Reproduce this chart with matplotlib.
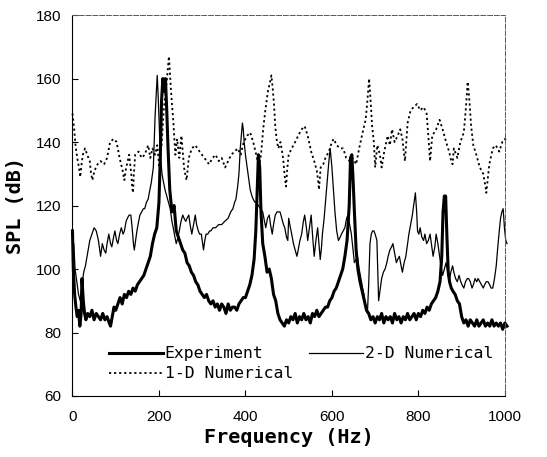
import matplotlib.pyplot as plt
from matplotlib.lines import Line2D

# experiment (thick line)
exp_f = [0, 2, 5, 8, 11, 14, 17, 20, 22, 25, 28, 31, 35, 40, 45, 50, 55, 60, 65, 70,
         75, 80, 85, 88, 92, 96, 100, 105, 110, 115, 120, 125, 130, 135, 140, 145, 150, 155, 160, 165,
         170, 175, 180, 185, 190, 195, 200, 203, 206, 209, 212, 215, 218, 221, 225, 230, 235, 240, 245, 250,
         255, 260, 265, 270, 275, 280, 285, 290, 295, 300, 305, 310, 315, 320, 325, 330, 335, 340, 345, 350,
         355, 360, 365, 370, 375, 380, 385, 390, 395, 400, 405, 410, 415, 420, 424, 427, 430, 433, 436, 440,
         445, 450, 455, 460, 465, 470, 475, 480, 485, 490, 495, 500, 505, 510, 515, 520, 525, 530, 535, 540,
         545, 550, 555, 560, 565, 570, 575, 580, 585, 590, 595, 600, 605, 610, 615, 620, 625, 630, 635, 640,
         643, 646, 649, 652, 656, 660, 665, 670, 675, 680, 685, 690, 695, 700, 705, 710, 715, 720, 725, 730,
         735, 740, 745, 750, 755, 760, 765, 770, 775, 780, 785, 790, 795, 800, 805, 810, 815, 820, 825, 830,
         835, 840, 845, 850, 854, 857, 860, 863, 866, 869, 872, 876, 880, 885, 890, 895, 900, 905, 910, 915,
         920, 925, 930, 935, 940, 945, 950, 955, 960, 965, 970, 975, 980, 985, 990, 995, 1000, 1005]
exp_db = [112, 100, 92, 88, 85, 87, 82, 86, 97, 90, 86, 84, 86, 85, 87, 84, 86, 85, 84, 86,
          84, 85, 83, 82, 85, 88, 87, 89, 91, 89, 92, 91, 93, 92, 94, 93, 95, 96, 97, 98,
          100, 102, 104, 108, 111, 113, 121, 135, 153, 160, 156, 160, 150, 138, 125, 118, 120, 112, 110, 108,
          106, 105, 102, 101, 99, 98, 96, 95, 93, 92, 91, 92, 90, 89, 90, 88, 89, 87, 89, 88,
          86, 89, 87, 88, 88, 87, 89, 90, 91, 91, 93, 95, 98, 103, 112, 124, 136, 132, 118, 108,
          104, 99, 100, 97, 92, 90, 86, 84, 83, 82, 84, 83, 85, 84, 86, 83, 85, 84, 86, 84,
          85, 83, 86, 85, 87, 85, 86, 87, 88, 88, 90, 91, 93, 94, 96, 98, 100, 104, 109, 120,
          135, 136, 128, 118, 106, 100, 96, 93, 90, 87, 86, 84, 85, 83, 85, 84, 86, 83, 85, 84,
          85, 83, 86, 84, 85, 83, 85, 84, 86, 84, 85, 86, 84, 86, 85, 87, 86, 88, 87, 89,
          90, 91, 93, 96, 104, 118, 123, 123, 110, 99, 96, 94, 93, 92, 90, 89, 85, 83, 84, 82,
          84, 83, 82, 84, 82, 83, 84, 82, 83, 82, 84, 82, 83, 82, 83, 81, 83, 82]

# 2-D numerical (thin line)
num2_f = [0, 3, 6, 10, 14, 18, 22, 26, 30, 35, 40, 45, 50, 55, 60, 65, 69, 73, 77, 80,
          84, 88, 91, 95, 98, 102, 105, 109, 113, 117, 120, 124, 127, 131, 135, 138, 141, 143, 146, 149,
          153, 156, 160, 164, 167, 171, 175, 179, 182, 185, 187, 189, 191, 194, 196, 198, 200, 202, 204, 207,
          211, 214, 218, 222, 226, 230, 233, 237, 240, 244, 247, 251, 255, 258, 262, 265, 269, 272, 276, 280,
          284, 287, 291, 294, 298, 301, 303, 306, 309, 313, 317, 320, 325, 331, 338, 345, 352, 360, 366, 371,
          375, 378, 382, 385, 388, 391, 393, 395, 397, 400, 404, 408, 411, 415, 418, 422, 425, 430, 435, 440,
          444, 447, 451, 455, 458, 462, 465, 469, 473, 477, 480, 484, 488, 491, 495, 498, 500, 504, 507, 511,
          515, 519, 522, 526, 530, 534, 537, 541, 544, 548, 552, 555, 559, 563, 567, 570, 573, 576, 578, 582,
          585, 589, 593, 596, 600, 603, 607, 611, 615, 619, 622, 626, 630, 634, 637, 641, 645, 648, 652, 656,
          659, 663, 667, 671, 674, 678, 682, 685, 688, 691, 694, 697, 700, 704, 706, 708, 711, 715, 719, 723,
          727, 730, 734, 738, 741, 745, 749, 752, 756, 760, 763, 767, 771, 775, 778, 782, 786, 789, 793, 796,
          798, 801, 804, 808, 812, 815, 819, 823, 827, 830, 834, 838, 841, 845, 849, 852, 856, 860, 864, 868,
          871, 875, 879, 882, 886, 890, 894, 898, 901, 905, 909, 913, 916, 920, 924, 927, 931, 935, 938, 942,
          946, 950, 953, 957, 961, 965, 968, 972, 976, 980, 983, 987, 990, 993, 996, 999, 1002, 1005]
num2_db = [103, 108, 100, 96, 92, 90, 95, 99, 101, 105, 109, 111, 113, 112, 109, 104, 108, 106, 105, 108,
           111, 108, 107, 110, 112, 109, 108, 111, 113, 111, 112, 115, 116, 117, 117, 113, 108, 106, 109, 112,
           115, 117, 118, 119, 119, 121, 122, 125, 127, 130, 132, 140, 148, 156, 161, 155, 148, 140, 135, 130,
           127, 125, 123, 121, 119, 115, 113, 110, 108, 110, 112, 115, 117, 116, 115, 116, 117, 114, 111, 114,
           117, 114, 112, 111, 111, 108, 106, 109, 111, 111, 112, 112, 113, 113, 114, 114, 115, 116, 118, 119,
           121, 122, 126, 130, 138, 143, 146, 144, 140, 136, 132, 128, 125, 123, 122, 121, 121, 120, 119, 118,
           115, 113, 116, 117, 114, 111, 114, 117, 118, 118, 118, 116, 114, 113, 110, 109, 116, 113, 111, 108,
           106, 104, 106, 109, 111, 115, 117, 113, 109, 113, 117, 111, 104, 109, 113, 108, 103, 107, 111, 116,
           121, 128, 134, 138, 132, 126, 118, 112, 109, 110, 111, 112, 113, 116, 117, 114, 111, 107, 102, 103,
           104, 100, 97, 94, 92, 88, 86, 95, 108, 111, 112, 112, 111, 109, 100, 90, 93, 97, 99, 100,
           102, 104, 106, 107, 108, 105, 102, 103, 104, 101, 99, 102, 104, 108, 111, 114, 117, 120, 124, 118,
           112, 111, 113, 110, 109, 111, 108, 109, 111, 108, 104, 107, 111, 108, 104, 101, 98, 100, 102, 99,
           96, 99, 101, 99, 97, 96, 98, 96, 95, 94, 96, 97, 97, 96, 94, 95, 97, 96, 97, 96,
           95, 94, 95, 96, 96, 95, 94, 94, 97, 101, 106, 112, 116, 118, 119, 113, 109, 108]

# 1-D numerical (dotted line)
num1_f = [0, 4, 7, 11, 15, 18, 21, 24, 29, 34, 40, 43, 46, 51, 58, 65, 73, 80, 87, 95,
          102, 109, 116, 120, 123, 126, 131, 136, 138, 140, 142, 145, 153, 160, 167, 175, 180, 185, 191, 196,
          201, 206, 211, 215, 218, 221, 223, 225, 227, 230, 233, 236, 238, 242, 247, 252, 258, 262, 264, 269,
          276, 284, 294, 305, 316, 324, 331, 338, 345, 353, 360, 367, 375, 382, 389, 396, 404, 411, 418, 425,
          431, 436, 441, 446, 452, 457, 460, 463, 466, 469, 472, 476, 481, 487, 491, 494, 497, 500, 507, 515,
          522, 530, 537, 544, 552, 559, 565, 568, 570, 574, 580, 585, 593, 600, 604, 611, 619, 626, 633, 641,
          648, 656, 663, 671, 678, 682, 686, 689, 693, 697, 700, 705, 711, 715, 721, 729, 734, 739, 745, 752,
          758, 763, 767, 769, 772, 775, 782, 789, 797, 804, 812, 819, 823, 827, 832, 841, 849, 856, 864, 871,
          876, 879, 882, 890, 897, 905, 910, 914, 918, 922, 927, 934, 942, 950, 955, 957, 960, 964, 972, 979,
          987, 994, 1000, 1005]
num1_db = [149, 144, 139, 135, 132, 129, 133, 136, 138, 136, 134, 130, 128, 131, 133, 134, 133, 135, 140, 141,
           140, 135, 131, 128, 131, 133, 136, 130, 126, 124, 130, 136, 137, 135, 136, 139, 135, 138, 136, 139,
           132, 139, 150, 155, 159, 164, 167, 163, 158, 152, 147, 140, 136, 141, 135, 142, 132, 129, 128, 135,
           138, 139, 137, 135, 133, 135, 136, 134, 135, 132, 134, 136, 137, 138, 136, 140, 142, 143, 140, 136,
           132, 136, 144, 150, 156, 159, 161, 157, 152, 145, 141, 138, 140, 135, 129, 126, 132, 136, 138, 140,
           142, 144, 145, 142, 137, 134, 131, 128, 125, 132, 133, 135, 137, 140, 141, 139, 138, 138, 135, 134,
           135, 133, 138, 143, 147, 153, 160, 154, 145, 140, 132, 139, 136, 132, 137, 142, 139, 144, 140, 142,
           144, 141, 136, 134, 140, 146, 150, 151, 152, 150, 151, 149, 142, 134, 142, 144, 147, 144, 140, 137,
           134, 133, 138, 135, 140, 143, 151, 159, 153, 145, 139, 136, 132, 130, 126, 124, 128, 133, 138, 139,
           137, 140, 141, 140]

xticks = [0, 200, 400, 600, 800, 1000]
yticks = [60, 80, 100, 120, 140, 160, 180]

plt.rcParams['font.family'] = ['Liberation Sans', 'DejaVu Sans']

fig = plt.figure(figsize=(5.47, 4.57), dpi=100)
ax = fig.add_axes([0.1325, 0.1335, 0.7905, 0.8335])

dots = (0, (1.2, 1.6))
ax.plot(exp_f, exp_db, color='black', lw=2.2, clip_on=False)
ax.plot(num2_f, num2_db, color='black', lw=0.9, clip_on=False)
ax.plot(num1_f, num1_db, color='black', lw=1.3, linestyle=dots, clip_on=False)

ax.set_xlim(0, 1000)
ax.set_ylim(60, 180)
ax.set_xticks(xticks)
ax.set_yticks(yticks)
ax.tick_params(direction='in', length=4, labelsize=11, pad=8)
ax.tick_params(axis='x', pad=10)

for side in ['top', 'right']:
    ax.spines[side].set_linestyle((0, (5, 2)))
    ax.spines[side].set_linewidth(0.7)
    ax.spines[side].set_color('0.35')

mono = {'family': 'DejaVu Sans Mono', 'weight': 'bold', 'size': 14.5}
ax.set_xlabel('Frequency (Hz)', fontdict=mono, labelpad=3)
ax.set_ylabel('SPL (dB)', fontdict=mono, labelpad=8)

handles = [Line2D([], [], color='black', lw=2.2),
           Line2D([], [], color='black', lw=1.3, linestyle=dots),
           Line2D([], [], color='black', lw=0.9)]
labels = ['Experiment', '1-D Numerical', '2-D Numerical']
ax.legend(handles, labels, loc='lower left', bbox_to_anchor=(0.05, 0.0), ncol=2,
          frameon=False, handlelength=3.3, handletextpad=0.1, columnspacing=1.0,
          labelspacing=0.3, prop={'family': 'DejaVu Sans Mono', 'size': 11.8})

fig.savefig('out.png', dpi=100)
